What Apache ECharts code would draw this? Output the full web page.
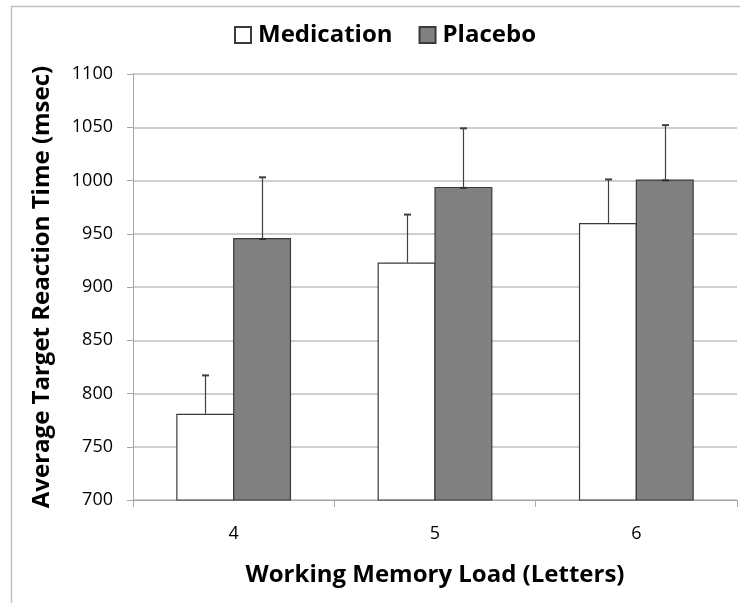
<!DOCTYPE html>
<html>
<head>
<meta charset="utf-8">
<script src="https://cdn.jsdelivr.net/npm/echarts@6/dist/echarts.min.js"></script>
<style>html,body{margin:0;padding:0;background:#fff;}#c{width:740px;height:603px;}</style>
</head>
<body>
<div id="c"></div>
<script>
const categories = ['4', '5', '6'];
const medication = [781, 923, 960];
const placebo = [946, 994, 1001];
const medicationErr = [36, 45, 41];
const placeboErr = [57, 55, 51];
const yTicks = { min: 700, max: 1100, interval: 50 };

const FONT = '"Open Sans", "Noto Sans", sans-serif';
const BAR_RATIO = 0.288;
const GAP = -0.02;

function errSeries(name, vals, errs, side, baseCap) {
  return {
    type: 'custom',
    name: name + ' error',
    z: 5,
    data: vals.map((v, i) => [i, v, errs[i]]),
    renderItem: function (params, api) {
      const i = api.value(0), v = api.value(1), e = api.value(2);
      const base = api.coord([i, v]);
      const top = api.coord([i, v + e]);
      const bw = api.size([1, 0])[0];
      const cx = Math.round(base[0] + side * bw * BAR_RATIO * (1 + GAP) / 2) + 0.5;
      const children = [
        { type: 'line', shape: { x1: cx, y1: base[1], x2: cx, y2: top[1] }, style: { stroke: '#404040', lineWidth: 1.2 } },
        { type: 'line', shape: { x1: cx - 3.5, y1: top[1], x2: cx + 3.5, y2: top[1] }, style: { stroke: '#404040', lineWidth: 2 } }
      ];
      if (baseCap) {
        children.push({ type: 'line', shape: { x1: cx - 3.5, y1: base[1] + 1, x2: cx + 3.5, y2: base[1] + 1 }, style: { stroke: '#303030', lineWidth: 2 } });
      }
      return { type: 'group', children: children };
    }
  };
}

const chart = echarts.init(document.getElementById('c'), null, { renderer: 'canvas' });
chart.setOption({
  animation: false,
  backgroundColor: '#fff',
  graphic: [
    { type: 'line', shape: { x1: 11, y1: 6.5, x2: 740, y2: 6.5 }, style: { stroke: '#c0c0c0', lineWidth: 1.5 } },
    { type: 'line', shape: { x1: 11.5, y1: 6, x2: 11.5, y2: 603 }, style: { stroke: '#c0c0c0', lineWidth: 1.5 } }
  ],
  legend: {
    data: ['Medication', 'Placebo'],
    left: 229,
    top: 18,
    icon: 'rect',
    itemWidth: 16,
    itemHeight: 16,
    itemGap: 26,
    textStyle: { fontFamily: FONT, fontSize: 24, fontWeight: 'bold', color: '#000', padding: [0, 0, 0, 2] }
  },
  grid: { left: 133, right: 3, top: 74, bottom: 103, containLabel: false },
  xAxis: {
    type: 'category',
    data: categories,
    name: 'Working Memory Load (Letters)',
    nameLocation: 'middle',
    nameGap: 63,
    nameTextStyle: { fontFamily: FONT, fontSize: 24, fontWeight: 'bold', color: '#000' },
    axisLine: { show: true, lineStyle: { color: '#a6a6a6', width: 1 } },
    axisTick: { show: true, length: 7, lineStyle: { color: '#a6a6a6' } },
    axisLabel: { fontFamily: FONT, fontSize: 18, color: '#000', margin: 25 },
    splitLine: { show: false }
  },
  yAxis: {
    type: 'value',
    min: yTicks.min,
    max: yTicks.max,
    interval: yTicks.interval,
    name: 'Average Target Reaction Time (msec)',
    nameLocation: 'middle',
    nameGap: 79,
    nameRotate: 90,
    nameTextStyle: { fontFamily: FONT, fontSize: 24, fontWeight: 'bold', color: '#000' },
    axisLine: { show: true, lineStyle: { color: '#a6a6a6', width: 1 } },
    axisTick: { show: true, length: 6, lineStyle: { color: '#a6a6a6' } },
    axisLabel: { fontFamily: FONT, fontSize: 18, color: '#000', margin: 20, formatter: function (v) { return String(v); } },
    splitLine: { show: true, lineStyle: { color: '#bfbfbf', width: 1.5 } }
  },
  series: [
    {
      name: 'Medication',
      type: 'bar',
      data: medication,
      barWidth: (BAR_RATIO * 100) + '%',
      barGap: (GAP * 100) + '%',
      itemStyle: { color: '#ffffff', borderColor: '#3a3a3a', borderWidth: 1.2 }
    },
    {
      name: 'Placebo',
      type: 'bar',
      data: placebo,
      barWidth: (BAR_RATIO * 100) + '%',
      barGap: (GAP * 100) + '%',
      itemStyle: { color: '#808080', borderColor: '#3a3a3a', borderWidth: 1.2 }
    },
    errSeries('Medication', medication, medicationErr, -1, false),
    errSeries('Placebo', placebo, placeboErr, 1, true)
  ]
});
</script>
</body>
</html>
